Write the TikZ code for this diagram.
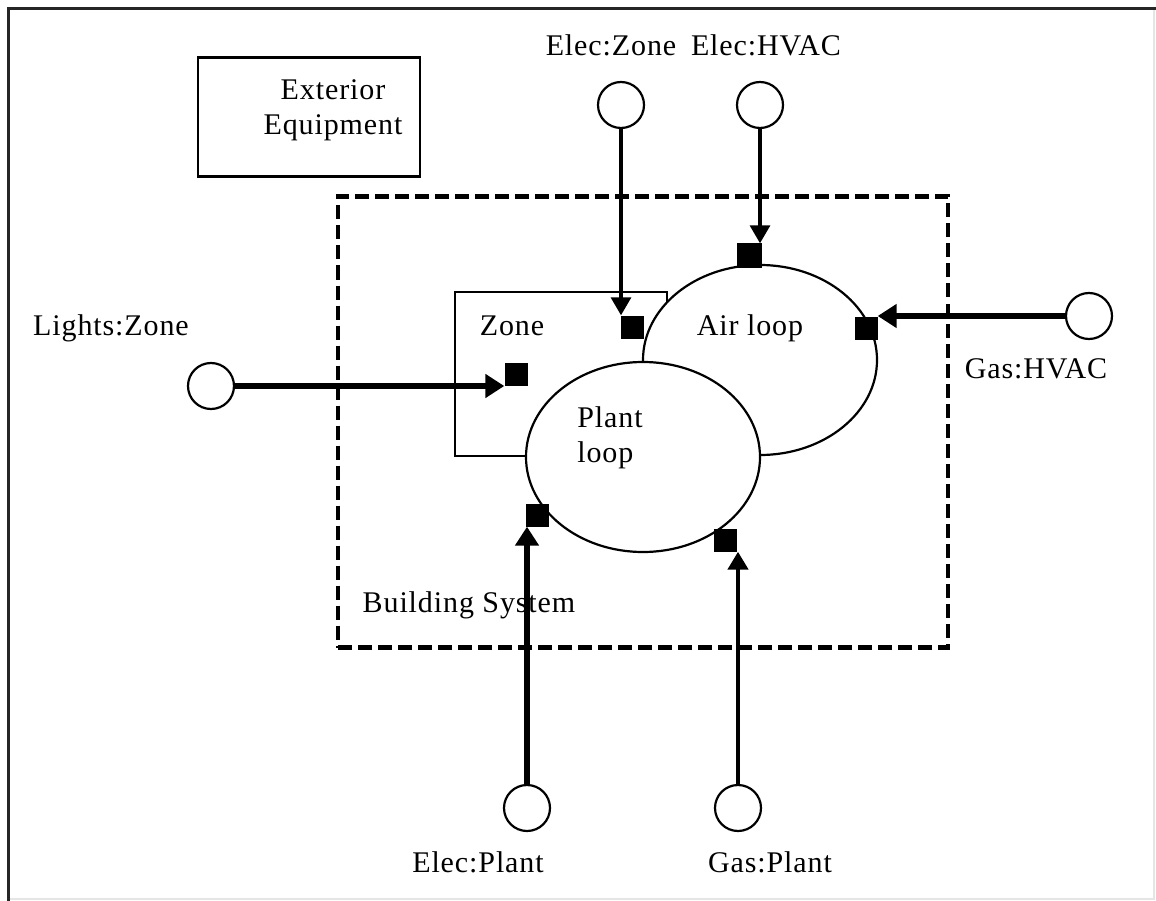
\documentclass[tikz,border=0pt]{standalone}
\usepackage{fontspec}
\setmainfont[LetterSpace=3]{Liberation Serif}
\usepackage{tikz}
\usetikzlibrary{positioning,arrows.meta,shapes.geometric}

\begin{document}
\begin{tikzpicture}[x=1pt, y=-1pt,
    every node/.style={font=\fontsize{30}{35}\selectfont, inner sep=0pt},
    sysbox/.style={draw, dash pattern=on 14pt off 6pt, line width=4.5pt, minimum width=610pt, minimum height=451pt},
    plainbox/.style={draw, fill=white, line width=2.2pt},
    loopshape/.style={draw, ellipse, fill=white, line width=2.2pt, minimum width=234pt, minimum height=190pt},
    meter/.style={draw, circle, line width=2.2pt, minimum size=46pt},
    port/.style={fill=black, minimum size=23pt},
    thinarrow/.style={-{Triangle[length=18pt, width=20pt]}, line width=3.2pt},
    thickarrow/.style={-{Triangle[length=19pt, width=23pt]}, line width=6.5pt},
]
\useasboundingbox (0,0) rectangle (1156,901);
% frame of the figure
\draw[gray!20, line width=2pt] (1154,9) -- (1154,899) -- (8,899);
\draw[black!85, line width=3pt] (8,901) -- (8,9) -- (1156,9);

% boxes and loops
\node[plainbox, minimum width=222pt, minimum height=119pt] (ext) at (309,117) {};
\node[align=center] (exttext) at (333,110) {Exterior\\Equipment};
\node[sysbox] (bldg) at (643,422) {};
\node[plainbox, minimum width=212pt, minimum height=164pt] (zone) at (561,374) {};
\node[loopshape] (air) at (760,360) {};
\node[loopshape] (plant) at (643,457) {};

\node (zonetext) at (512,326) {Zone};
\node (airtext) at (750,328) {Air loop};
\node[align=left] (planttext) at (610,438) {Plant\\loop};
\node (bldgtext) at (469,605) {Building System};

% ports
\node[port] (zport) at (632,327) {};
\node[port] (lport) at (516,374) {};
\node[port, minimum size=25pt] (aport) at (749,256) {};
\node[port] (gport) at (866,328) {};
\node[port] (eport) at (537,515) {};
\node[port] (pport) at (725,540) {};

% meters
\node[meter] (ezone) at (621,105) {};
\node[meter] (ehvac) at (760,105) {};
\node[meter] (ghvac) at (1089,316) {};
\node[meter] (lzone) at (211,386) {};
\node[meter] (eplant) at (527,808) {};
\node[meter] (gplant) at (738,808) {};

\node (ezonetext) at (611,45) {Elec:Zone};
\node (ehvactext) at (766,45) {Elec:HVAC};
\node (ghvactext) at (1036,369) {Gas:HVAC};
\node (lzonetext) at (111,328) {Lights:Zone};
\node (eplanttext) at (478,862) {Elec:Plant};
\node (gplanttext) at (770,862) {Gas:Plant};

% meter connections
\draw[thinarrow] (ezone) -- (ezone |- zport.north);
\draw[thinarrow] (ehvac) -- (ehvac |- aport.north);
\draw[thickarrow] (ghvac) -- (ghvac -| gport.east);
\draw[thickarrow] (lzone) -- (lzone -| lport.west);
\draw[thickarrow] (eplant) -- (eplant |- eport.south);
\draw[thinarrow, line width=4.5pt] (gplant) -- (gplant |- pport.south);
\end{tikzpicture}
\end{document}
